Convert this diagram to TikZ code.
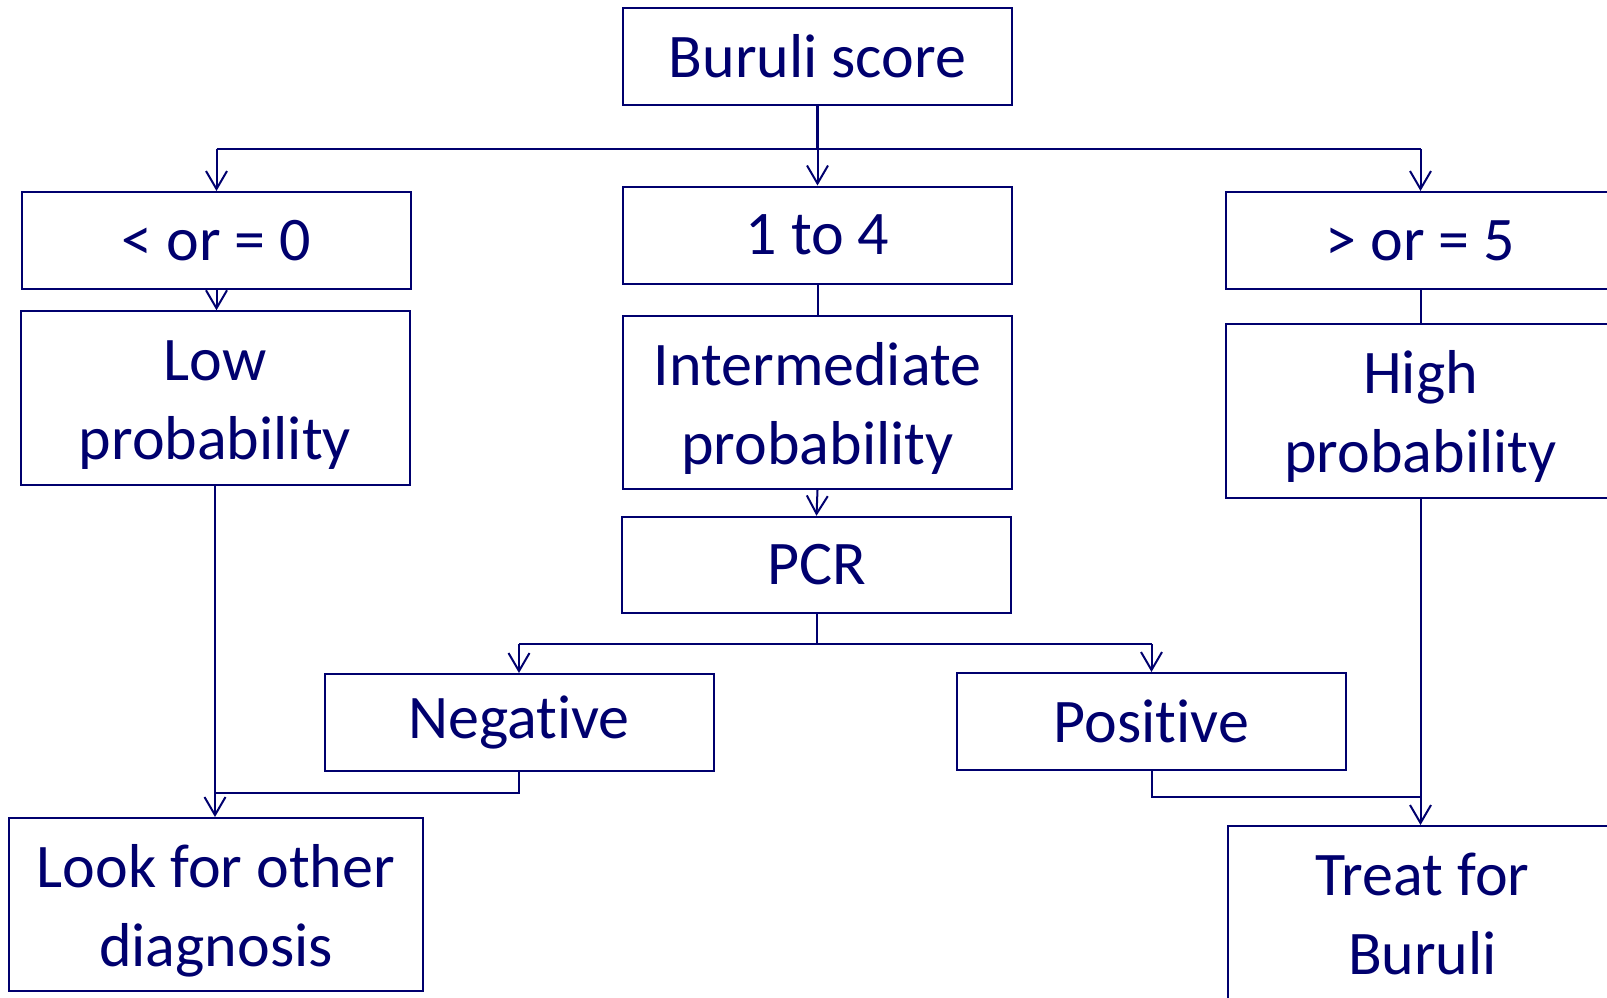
\documentclass[tikz,border=0pt]{standalone}
\usepackage{fontspec}
\setmainfont{Carlito}[Ligatures={NoCommon,NoContextual}, Contextuals=NoAlternate]
\usetikzlibrary{arrows.meta,positioning}
\definecolor{navy}{RGB}{0,0,110}
\newcommand\lift{\rule{0pt}{27.4pt}}
\tikzset{
  box/.style={draw=navy, line width=1pt, text=navy, align=center, inner sep=0pt,
    minimum width=194.5pt, font=\fontsize{31}{39.5}\selectfont},
  link/.style={draw=navy, line width=1pt},
  arr/.style={link, -{Straight Barb[length=9pt,width=10.5pt]}},
}
\begin{document}
\begin{tikzpicture}[x=0.5pt, y=-0.5pt]
   \useasboundingbox (0,0) rectangle (1607,997);
   \clip (0,0) rectangle (1607,997);

   % one-line boxes
   \foreach \x/\y/\h/\id/\txt in {{817.5/56.5/48.5/score/Buruli score},
        {216.5/240.5/48.5/lt0/< or = 0}, {817.5/235/48.5/mid/1 to 4}, {1420.5/240.5/48.5/ge5/> or = 5},
        {816.5/565/48.25/pcr/PCR}, {519/722.5/48.5/neg/Negative}, {1151.5/721.5/48.5/pos/Positive}}
       \node[box, minimum height=\h pt] (\id) at (\x,\y) {\txt};

   % two-line boxes
   \foreach \x/\y/\h/\id/\txt in {{215/398/86.75/low/Low\\probability},
        {817.5/402.5/86.5/inter/Intermediate\\probability}, {1420.5/411/87/high/High\\probability}}
       \node[box, minimum height=\h pt] (\id) at (\x,\y) {\lift\txt};
   \node[box, minimum width=207pt, minimum height=86.5pt] (look) at (216,904.5) {\lift Look for other\\diagnosis};
   \node[box, minimum height=87.5pt] (treat) at (1422.5,913.5) {Treat for\\Buruli};

   % score split
   \coordinate (split) at (817.5,149);
   \draw[link, line width=1.6pt] (score.south) -- (split);
   \draw[link] (split -| lt0.north) -- (split -| ge5.north);
   \foreach \t in {lt0, mid, ge5}
       \draw[arr] (split -| \t.north) -- (\t.north);

   \draw[arr] (lt0.south |- lt0.south) -- (lt0.south |- low.north);
   \draw[link] (mid.south) -- (inter.north);
   \draw[link] (ge5.south) -- (high.north);
   \draw[arr] (inter.south) -- (pcr.north);

   % pcr split
   \coordinate (pcrsplit) at (816.5,644);
   \draw[link] (pcr.south) -- (pcrsplit);
   \draw[link] (pcrsplit -| neg.north) -- (pcrsplit -| pos.north);
   \foreach \t in {neg, pos}
       \draw[arr] (pcrsplit -| \t.north) -- (\t.north);

   % outcomes
   \coordinate (jl) at (215,793);
   \coordinate (jr) at (1421,797);
   \draw[arr] (low.south) -- (low.south |- look.north);
   \draw[link] (neg.south) |- (jl);
   \draw[arr] (high.south) -- (high.south |- treat.north);
   \draw[link] (pos.south) |- (jr);
\end{tikzpicture}
\end{document}
